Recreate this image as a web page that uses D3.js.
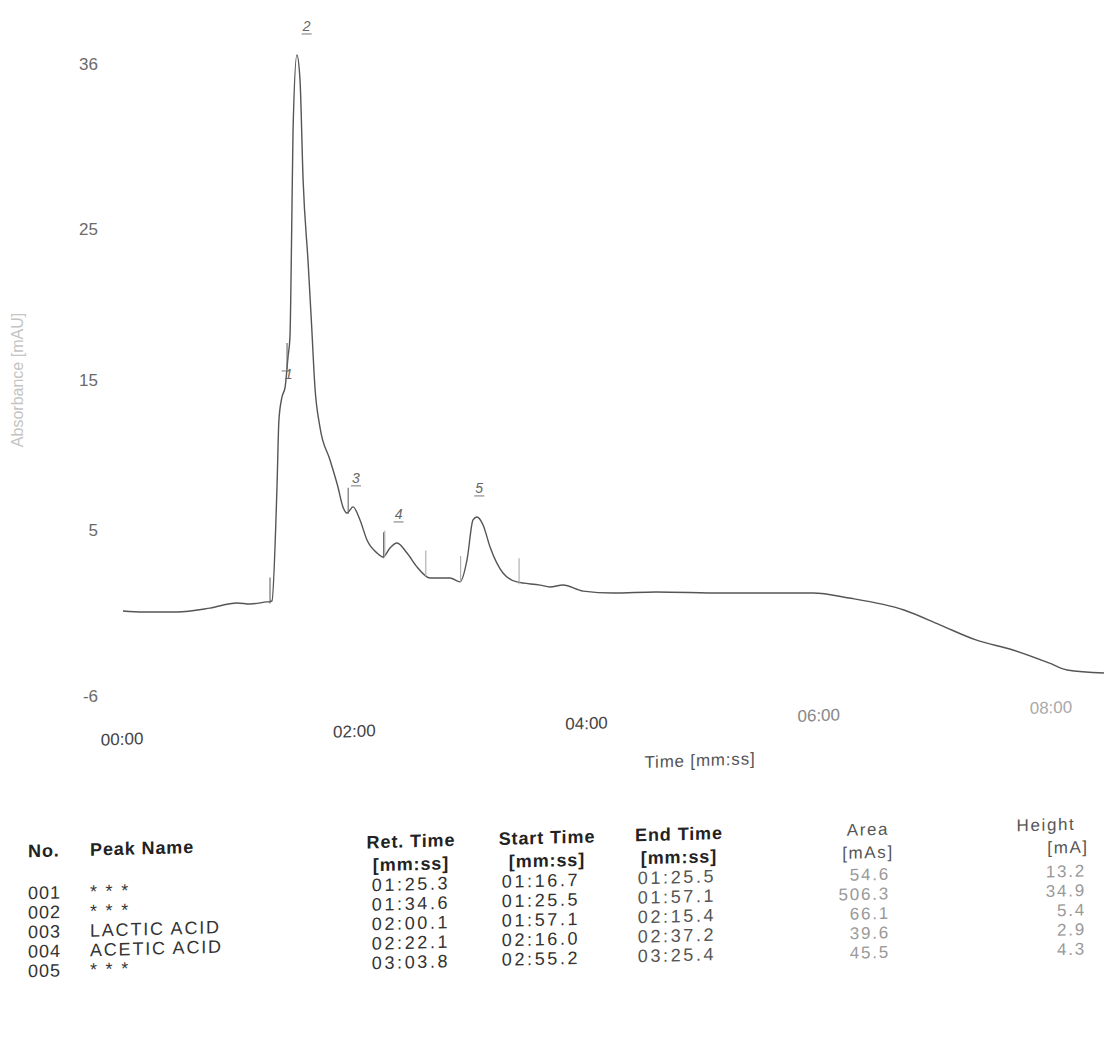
<!DOCTYPE html>
<html>
<head>
<meta charset="utf-8">
<script src="https://cdn.jsdelivr.net/npm/d3@7"></script>
<style>
  html, body { margin: 0; padding: 0; background: #fff; }
  svg { display: block; }
</style>
</head>
<body>
<svg id="chart" width="1118" height="1043"></svg>
<script>
// ---------- DATA ----------
// chromatogram trace: time [s] and signal [mA]
const timeSec = [0.7, 11.1, 28.6, 45.7, 59.6, 66.4, 75.1, 76.7, 77.7, 80.3, 81.3, 82.9, 84.5, 86.0, 87.0, 87.9, 88.6, 90.6, 92.2, 93.8, 96.4, 98.2, 99.9, 102.5, 107.7, 111.8, 114.4, 116.5, 119.6, 123.2, 126.8, 132.0, 135.1, 138.7, 142.3, 147.5, 152.7, 159.4, 169.7, 174.9, 178.5, 181.6, 183.6, 186.8, 190.4, 197.1, 204.3, 216.3, 221.4, 228.1, 238.5, 253.9, 276.3, 310.3, 357.3, 375.9, 404.3, 422.9, 441.5, 460.6, 479.2, 488.6, 507.7];
const signal  = [-0.37, -0.44, -0.44, -0.18, 0.16, 0.09, 0.23, 0.25, 0.3, 7.87, 12.33, 13.86, 14.52, 16.52, 17.84, 24.96, 31.61, 36.6, 34.93, 28.28, 22.77, 18.6, 14.52, 11.86, 9.67, 7.87, 6.54, 6.14, 6.55, 5.68, 4.35, 3.48, 3.22, 3.82, 4.15, 3.48, 2.55, 1.82, 1.82, 1.56, 3.02, 5.68, 5.88, 5.35, 3.88, 2.15, 1.56, 1.35, 1.22, 1.35, 0.95, 0.82, 0.89, 0.82, 0.82, 0.49, -0.31, -1.30, -2.30, -2.97, -3.83, -4.30, -4.50];

const yTickValues = [36, 25, 15, 5, -6];
const xTickValues = [0, 120, 240, 360, 480];
const xTickLabels = ["00:00", "02:00", "04:00", "06:00", "08:00"];

// peak table
const peakNo     = ["001", "002", "003", "004", "005"];
const peakNames  = ["* * *", "* * *", "LACTIC ACID", "ACETIC ACID", "* * *"];
const retTimes   = ["01:25.3", "01:34.6", "02:00.1", "02:22.1", "03:03.8"];
const startTimes = ["01:16.7", "01:25.5", "01:57.1", "02:16.0", "02:55.2"];
const endTimes   = ["01:25.5", "01:57.1", "02:15.4", "02:37.2", "03:25.4"];
const areas      = ["54.6", "506.3", "66.1", "39.6", "45.5"];
const heights    = ["13.2", "34.9", "5.4", "2.9", "4.3"];
const peakLabels = ["1", "2", "3", "4", "5"];

// ---------- HELPERS ----------
const toSec = s => { const [m, r] = s.split(":"); return (+m) * 60 + (+r); };
const FONT = "'Liberation Sans', Arial, Helvetica, sans-serif";

const svg = d3.select("#chart");
svg.append("rect").attr("width", 1118).attr("height", 1043).attr("fill", "#fff");

const x = d3.scaleLinear().domain([0, 510]).range([121.6, 1108.5]);
const y = d3.scaleLinear().domain([-6, 36]).range([695.6, 64.0]);

const trace = timeSec.map((t, i) => ({ t, v: signal[i] }));
const interp = t => {
  for (let i = 1; i < trace.length; i++) {
    if (trace[i].t >= t) {
      const a = trace[i - 1], b = trace[i];
      return a.v + (b.v - a.v) * (t - a.t) / (b.t - a.t);
    }
  }
  return trace[trace.length - 1].v;
};

// ---------- Y AXIS ----------
const yAxis = d3.axisLeft(y).tickValues(yTickValues).tickSize(0).tickPadding(0)
  .tickFormat(d => String(d));
const gy = svg.append("g").attr("transform", "translate(98,0)").call(yAxis);
gy.select(".domain").remove();
gy.selectAll("text").attr("font-family", FONT).attr("font-size", 17).attr("fill", "#6a6a6a");

svg.append("text")
  .attr("transform", "translate(23,380) rotate(-90)")
  .attr("text-anchor", "middle")
  .attr("font-family", FONT).attr("font-size", 16)
  .attr("fill", "#c4c4c4")
  .text("Absorbance [mAU]");

// ---------- X AXIS ----------
const xAxis = d3.axisBottom(x).tickValues(xTickValues).tickSize(0).tickPadding(0)
  .tickFormat((d, i) => xTickLabels[i]);
const gx = svg.append("g").attr("transform", "skewY(-1.95) translate(0,737)").call(xAxis);
gx.select(".domain").remove();
const xTickColors = ["#444", "#444", "#444", "#888", "#aaa"];
gx.selectAll("text").attr("font-family", FONT).attr("font-size", 17)
  .attr("fill", (d, i) => xTickColors[i]);

svg.append("text")
  .attr("transform", "skewY(-1.95)")
  .attr("x", 700).attr("y", 790)
  .attr("text-anchor", "middle")
  .attr("font-family", FONT).attr("font-size", 17).attr("letter-spacing", 0.8)
  .attr("fill", "#555")
  .text("Time [mm:ss]");

// ---------- TRACE ----------
const line = d3.line().x(d => x(d.t)).y(d => y(d.v)).curve(d3.curveMonotoneX);
svg.append("path").datum(trace)
  .attr("d", line)
  .attr("fill", "none")
  .attr("stroke", "#555")
  .attr("stroke-width", 1.4)
  .attr("stroke-linejoin", "round");

// peak boundary markers
const bounds = Array.from(new Set(startTimes.concat(endTimes))).map(toSec).sort((a, b) => a - b);
svg.append("g").selectAll("line").data(bounds).join("line")
  .attr("x1", d => x(d)).attr("x2", d => x(d))
  .attr("y1", d => y(interp(d)) + 2)
  .attr("y2", d => y(interp(d)) - 24)
  .attr("stroke", (d, i) => i < 4 ? "#666" : "#aaa")
  .attr("stroke-width", 1.1);

// peak labels (shoulder peaks without an interior maximum sit on the trace)
const peaks = peakLabels.map((lab, i) => {
  const s = toSec(startTimes[i]), e = toSec(endTimes[i]);
  let vmax = Math.max(interp(s), interp(e));
  let interior = false;
  trace.forEach(p => { if (p.t > s && p.t < e && p.v > vmax) { vmax = p.v; interior = true; } });
  const t = toSec(retTimes[i]);
  return { lab, t, v: interior ? vmax : interp(t), shoulder: !interior };
});
const pg = svg.append("g");
pg.selectAll("text").data(peaks).join("text")
  .attr("x", d => x(d.t) + 2)
  .attr("y", d => d.shoulder ? y(d.v) + 8 : y(d.v) - 24)
  .attr("text-anchor", "middle")
  .attr("font-family", FONT).attr("font-size", 14).attr("font-style", "italic")
  .attr("fill", "#666")
  .text(d => d.lab);
pg.selectAll("line").data(peaks.filter(d => !d.shoulder)).join("line")
  .attr("x1", d => x(d.t) - 3).attr("x2", d => x(d.t) + 7)
  .attr("y1", d => y(d.v) - 21).attr("y2", d => y(d.v) - 21)
  .attr("stroke", "#777").attr("stroke-width", 1);
pg.selectAll("line.cross").data(peaks.filter(d => d.shoulder)).join("line")
  .attr("class", "cross")
  .attr("x1", d => x(d.t) - 5).attr("x2", d => x(d.t) + 4)
  .attr("y1", d => y(d.v)).attr("y2", d => y(d.v))
  .attr("stroke", "#777").attr("stroke-width", 1);

// ---------- TABLE ----------
const tg = svg.append("g").attr("transform", "skewY(-1.5)");
const headers = [
  { lines: ["No."], x: 28, anchor: "start" },
  { lines: ["Peak Name"], x: 90, anchor: "start" },
  { lines: ["Ret. Time", "[mm:ss]"], x: 411, anchor: "middle" },
  { lines: ["Start Time", "[mm:ss]"], x: 547, anchor: "middle" },
  { lines: ["End Time", "[mm:ss]"], x: 679, anchor: "middle" },
  { lines: ["Area", "[mAs]"], x: 868, anchor: "middle", light: true },
  { lines: ["Height", "[mA]"], x: 1046, anchor: "middle", light: true }
];
headers.forEach(h => {
  h.lines.forEach((txt, j) => {
    tg.append("text")
      .attr("x", h.x + (txt === "[mA]" ? 22 : 0))
      .attr("y", 858 + j * 23)
      .attr("text-anchor", h.anchor)
      .attr("font-family", FONT)
      .attr("font-size", h.light ? 17 : 18)
      .attr("font-weight", h.light ? "normal" : "bold")
      .attr("letter-spacing", h.light ? 1.6 : 0.9)
      .attr("fill", h.light ? "#555" : "#222")
      .text(txt);
  });
});

const columns = [
  { vals: peakNo, x: 28, anchor: "start", fill: "#333", size: 18, ls: 1, dy: 0 },
  { vals: peakNames, x: 90, anchor: "start", fill: "#333", size: 18, ls: 1.8, dy: 0 },
  { vals: retTimes, x: 411, anchor: "middle", fill: "#333", size: 18, ls: 2.6, dy: 1 },
  { vals: startTimes, x: 541, anchor: "middle", fill: "#333", size: 18, ls: 2.6, dy: 1 },
  { vals: endTimes, x: 677, anchor: "middle", fill: "#555", size: 18, ls: 2.6, dy: 1 },
  { vals: areas, x: 890, anchor: "end", fill: "#999", size: 17, ls: 1.8, dy: 3 },
  { vals: heights, x: 1086, anchor: "end", fill: "#999", size: 17, ls: 1.8, dy: 5 }
];
columns.forEach(c => {
  tg.append("g").selectAll("text").data(c.vals).join("text")
    .attr("x", c.x)
    .attr("y", (d, i) => 900 + c.dy + i * 19.5)
    .attr("text-anchor", c.anchor)
    .attr("font-family", FONT)
    .attr("font-size", c.size)
    .attr("letter-spacing", c.ls)
    .attr("fill", c.fill)
    .text(d => d);
});
</script>
</body>
</html>
